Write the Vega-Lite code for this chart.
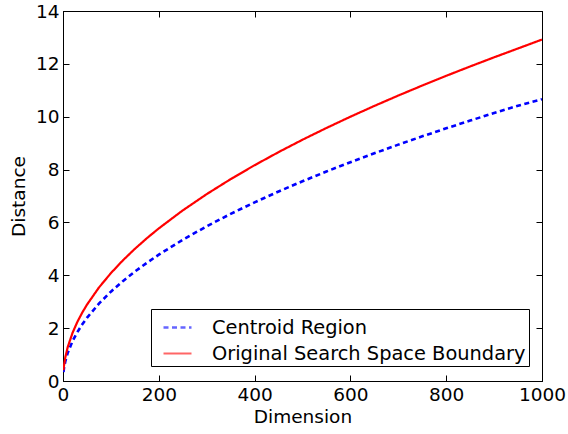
{
  "$schema": "https://vega.github.io/schema/vega-lite/v6.json",
  "width": 479,
  "height": 370,
  "autosize": "none",
  "padding": {"left": 63, "top": 11, "right": 26, "bottom": 53},
  "background": "white",
  "config": {
    "font": "DejaVu Sans",
    "view": {"stroke": "black", "strokeWidth": 1},
    "axis": {
      "domainColor": "black",
      "tickColor": "black",
      "labelColor": "black",
      "titleColor": "black",
      "grid": false,
      "labelFont": "DejaVu Sans",
      "titleFont": "DejaVu Sans",
      "labelFontSize": 18.5,
      "titleFontSize": 18.5,
      "titleFontWeight": "normal",
      "tickSize": -6,
      "tickWidth": 1
    },
    "legend": {
      "orient": "none",
      "legendX": 88,
      "legendY": 298,
      "strokeColor": "black",
      "fillColor": "white",
      "padding": 3,
      "symbolOffset": 8,
      "labelFont": "DejaVu Sans",
      "labelFontSize": 19.4,
      "labelColor": "black",
      "labelLimit": 400,
      "labelOffset": 19,
      "symbolType": "stroke",
      "symbolSize": 784,
      "symbolStrokeWidth": 2,
      "symbolOpacity": 0.6,
      "rowPadding": 1,
      "cornerRadius": 0
    }
  },
  "data": {
    "values": [
      {"d": 1, "dist": 0.338, "series": "Centroid Region"},
      {"d": 2, "dist": 0.478, "series": "Centroid Region"},
      {"d": 5, "dist": 0.756, "series": "Centroid Region"},
      {"d": 10, "dist": 1.069, "series": "Centroid Region"},
      {"d": 20, "dist": 1.512, "series": "Centroid Region"},
      {"d": 30, "dist": 1.851, "series": "Centroid Region"},
      {"d": 40, "dist": 2.138, "series": "Centroid Region"},
      {"d": 50, "dist": 2.390, "series": "Centroid Region"},
      {"d": 75, "dist": 2.927, "series": "Centroid Region"},
      {"d": 100, "dist": 3.380, "series": "Centroid Region"},
      {"d": 125, "dist": 3.779, "series": "Centroid Region"},
      {"d": 150, "dist": 4.140, "series": "Centroid Region"},
      {"d": 175, "dist": 4.471, "series": "Centroid Region"},
      {"d": 200, "dist": 4.780, "series": "Centroid Region"},
      {"d": 250, "dist": 5.344, "series": "Centroid Region"},
      {"d": 300, "dist": 5.854, "series": "Centroid Region"},
      {"d": 350, "dist": 6.323, "series": "Centroid Region"},
      {"d": 400, "dist": 6.760, "series": "Centroid Region"},
      {"d": 450, "dist": 7.170, "series": "Centroid Region"},
      {"d": 500, "dist": 7.558, "series": "Centroid Region"},
      {"d": 550, "dist": 7.927, "series": "Centroid Region"},
      {"d": 600, "dist": 8.279, "series": "Centroid Region"},
      {"d": 650, "dist": 8.617, "series": "Centroid Region"},
      {"d": 700, "dist": 8.943, "series": "Centroid Region"},
      {"d": 750, "dist": 9.257, "series": "Centroid Region"},
      {"d": 800, "dist": 9.560, "series": "Centroid Region"},
      {"d": 850, "dist": 9.854, "series": "Centroid Region"},
      {"d": 900, "dist": 10.140, "series": "Centroid Region"},
      {"d": 950, "dist": 10.418, "series": "Centroid Region"},
      {"d": 1000, "dist": 10.660, "series": "Centroid Region"},
      {"d": 1, "dist": 0.408, "series": "Original Search Space Boundary"},
      {"d": 2, "dist": 0.577, "series": "Original Search Space Boundary"},
      {"d": 5, "dist": 0.913, "series": "Original Search Space Boundary"},
      {"d": 10, "dist": 1.291, "series": "Original Search Space Boundary"},
      {"d": 20, "dist": 1.826, "series": "Original Search Space Boundary"},
      {"d": 30, "dist": 2.236, "series": "Original Search Space Boundary"},
      {"d": 40, "dist": 2.582, "series": "Original Search Space Boundary"},
      {"d": 50, "dist": 2.887, "series": "Original Search Space Boundary"},
      {"d": 75, "dist": 3.536, "series": "Original Search Space Boundary"},
      {"d": 100, "dist": 4.082, "series": "Original Search Space Boundary"},
      {"d": 125, "dist": 4.564, "series": "Original Search Space Boundary"},
      {"d": 150, "dist": 5.000, "series": "Original Search Space Boundary"},
      {"d": 175, "dist": 5.401, "series": "Original Search Space Boundary"},
      {"d": 200, "dist": 5.774, "series": "Original Search Space Boundary"},
      {"d": 250, "dist": 6.455, "series": "Original Search Space Boundary"},
      {"d": 300, "dist": 7.071, "series": "Original Search Space Boundary"},
      {"d": 350, "dist": 7.638, "series": "Original Search Space Boundary"},
      {"d": 400, "dist": 8.165, "series": "Original Search Space Boundary"},
      {"d": 450, "dist": 8.660, "series": "Original Search Space Boundary"},
      {"d": 500, "dist": 9.129, "series": "Original Search Space Boundary"},
      {"d": 550, "dist": 9.574, "series": "Original Search Space Boundary"},
      {"d": 600, "dist": 10.000, "series": "Original Search Space Boundary"},
      {"d": 650, "dist": 10.408, "series": "Original Search Space Boundary"},
      {"d": 700, "dist": 10.801, "series": "Original Search Space Boundary"},
      {"d": 750, "dist": 11.180, "series": "Original Search Space Boundary"},
      {"d": 800, "dist": 11.547, "series": "Original Search Space Boundary"},
      {"d": 850, "dist": 11.902, "series": "Original Search Space Boundary"},
      {"d": 900, "dist": 12.247, "series": "Original Search Space Boundary"},
      {"d": 950, "dist": 12.583, "series": "Original Search Space Boundary"},
      {"d": 1000, "dist": 12.920, "series": "Original Search Space Boundary"}
    ]
  },
  "layer": [
    {
      "mark": {"type": "line", "clip": true},
      "encoding": {
        "x": {
          "field": "d", "type": "quantitative",
          "scale": {"domain": [0, 1000], "nice": false, "zero": false},
          "axis": {"title": "Dimension", "format": "d", "values": [0, 200, 400, 600, 800, 1000], "labelPadding": 10, "titlePadding": 4, "labelFlush": false}
        },
        "y": {
          "field": "dist", "type": "quantitative",
          "scale": {"domain": [0, 14], "nice": false},
          "axis": {"title": "Distance", "values": [0, 2, 4, 6, 8, 10, 12, 14], "labelPadding": 10, "titlePadding": 7, "labelFlush": false}
        },
        "color": {
          "field": "series", "type": "nominal",
          "scale": {"domain": ["Centroid Region", "Original Search Space Boundary"], "range": ["#0000ff", "#ff0000"]},
          "legend": {"title": null}
        },
        "strokeDash": {
          "field": "series", "type": "nominal",
          "scale": {"domain": ["Centroid Region", "Original Search Space Boundary"], "range": [[5, 3.5], [1, 0]]},
          "legend": {"title": null}
        },
        "strokeWidth": {
          "field": "series", "type": "nominal",
          "scale": {"domain": ["Centroid Region", "Original Search Space Boundary"], "range": [2.6, 2.2]},
          "legend": null
        }
      }
    },
    {
      "mark": {"type": "point", "opacity": 0},
      "encoding": {
        "x": {"field": "d", "type": "quantitative", "axis": {"orient": "top", "title": null, "labels": false, "values": [0, 200, 400, 600, 800, 1000]}},
        "y": {"field": "dist", "type": "quantitative", "axis": {"orient": "right", "title": null, "labels": false, "values": [0, 2, 4, 6, 8, 10, 12, 14]}}
      }
    }
  ],
  "resolve": {"axis": {"x": "independent", "y": "independent"}}
}
